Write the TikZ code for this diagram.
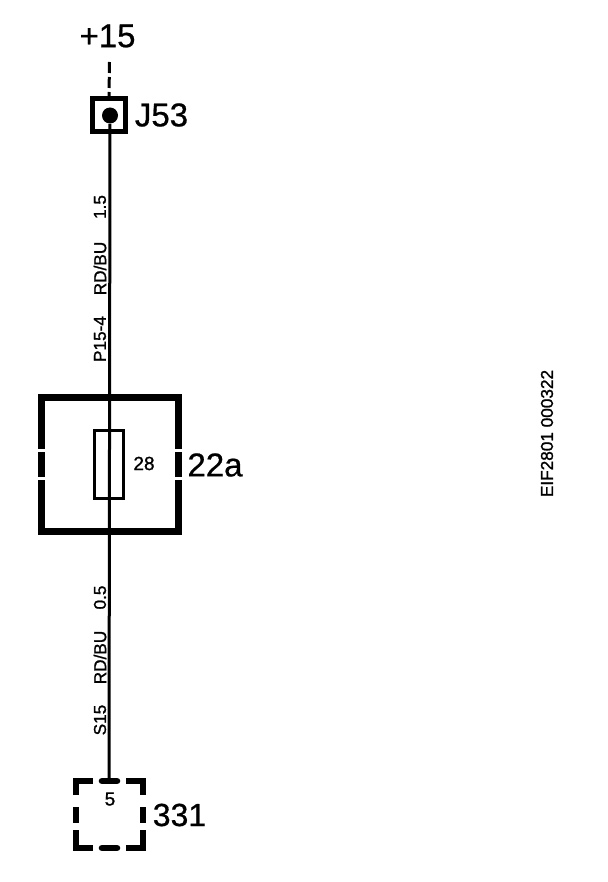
\documentclass[tikz,border=0pt]{standalone}
\usepackage{fontspec}
\setmainfont{Liberation Sans}
\newfontfamily\heavyfont{Liberation Sans}[FakeBold=0.6]
\newfontfamily\tinyfont{Liberation Sans}[FakeBold=1.2]
\tikzset{
  wire/.style={line width=1.5pt},
  thickbox/.style={line width=3.3pt},
  bigtext/.style={inner sep=0pt, font=\heavyfont\fontsize{16.5}{16.5}\selectfont},
  smalltext/.style={inner sep=0pt, font=\tinyfont\fontsize{9.5}{9.5}\selectfont},
  wiretext/.style={inner sep=0pt, rotate=90, font=\tinyfont\fontsize{8.6}{8.6}\selectfont},
}
\begin{document}
\begin{tikzpicture}[x=0.5pt, y=-0.5pt]
  \useasboundingbox (0,0) rectangle (608,882);

  % Supply and switch
  \node[bigtext] (supply) at (107.5,36) {+15};
  \coordinate (feed) at (109.5,62);
  \node[draw, line width=2.5pt, minimum size=16.5pt, inner sep=0pt] (switch) at (109,115.5) {};
  \node[circle, fill, minimum size=8pt, inner sep=0pt] (contact) at (110,115.5) {};
  \node[bigtext] (switchname) at (161.5,115) {J53};
  \draw[wire, dash pattern=on 5.5pt off 2pt] (feed) -- (switch.north);

  % Fuse block
  \draw[thickbox] (41.5,449) -- (41.5,397.5) -- (178.5,397.5) -- (178.5,449);
  \draw[thickbox] (41.5,480) -- (41.5,531.5) -- (178.5,531.5) -- (178.5,480);
  \draw[thickbox] (41.5,452) -- (41.5,477);
  \draw[thickbox] (178.5,452) -- (178.5,477);
  \node[draw, line width=1.5pt, minimum width=14.8pt, minimum height=34.2pt, inner sep=0pt] (fuse) at (109,464.5) {};
  \node[smalltext] (fusenum) at (144,463.5) {28};
  \node[bigtext] (blockname) at (215,465) {22a};

  % Connector
  \begin{scope}[thickbox]
    \draw (76,795) -- (76,781) -- (93,781);
    \draw[line cap=round] (102,781) -- (117,781);
    \draw (126,781) -- (143,781) -- (143,795);
    \draw (76,807) -- (76,823);
    \draw (143,807) -- (143,823);
    \draw (76,830) -- (76,848) -- (93,848);
    \draw[line cap=round] (102,848) -- (117,848);
    \draw (126,848) -- (143,848) -- (143,830);
  \end{scope}
  \coordinate (pin) at (109,781);
  \node[smalltext] (pinnum) at (110,799) {5};
  \node[bigtext, font=\heavyfont\fontsize{16}{16}\selectfont] (connname) at (179.5,815) {331};

  % Wires
  \draw[wire] (contact) -- (pin);
  \node[wiretext] (size1) at (100,207) {1.5};
  \node[wiretext] (colour1) at (100,268.5) {RD/BU};
  \node[wiretext] (name1) at (100,339) {P15-4};
  \node[wiretext] (size2) at (100,597.5) {0.5};
  \node[wiretext] (colour2) at (100,657.5) {RD/BU};
  \node[wiretext] (name2) at (100,720) {S15};

  % Figure number
  \node[inner sep=0pt, rotate=90, font=\tinyfont\fontsize{8.6}{8.6}\selectfont] (figno) at (547,433.5) {EIF2801 000322};
\end{tikzpicture}
\end{document}
